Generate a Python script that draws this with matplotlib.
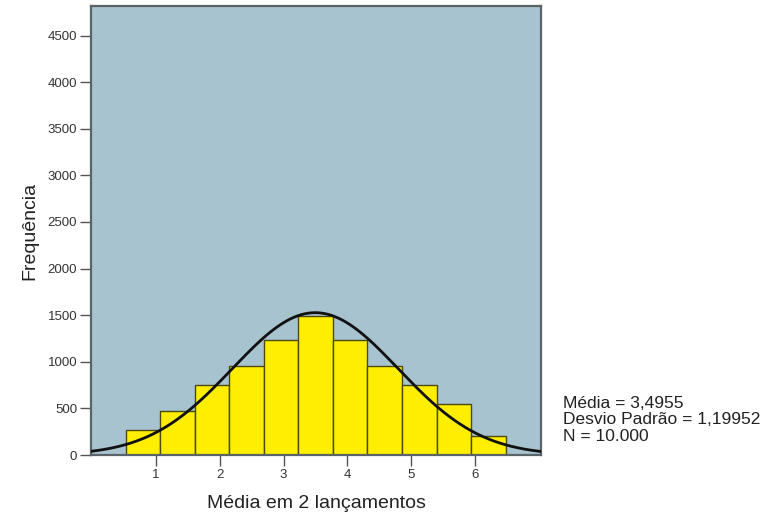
import numpy as np
import matplotlib.pyplot as plt

plt.rcParams['font.family'] = ['Liberation Sans', 'DejaVu Sans']

# histogram of the mean of 2 dice throws (SPSS style)
bin_edges = [0.526, 1.067, 1.608, 2.149, 2.690, 3.231, 3.772,
             4.313, 4.854, 5.395, 5.936, 6.477]
counts = [268, 475, 754, 951, 1234, 1491, 1234, 951, 754, 544, 207]

mean = 3.4955
std_dev = 1.19952
n_obs = 10000
curve_peak = 1527
# SPSS draws the curve in bin units: a bar of 0.5 points spans 0.541 on the axis
axis_stretch = 0.541 / 0.5

y_ticks = [0, 500, 1000, 1500, 2000, 2500, 3000, 3500, 4000, 4500]
x_ticks = [1, 2, 3, 4, 5, 6]

fig = plt.figure(figsize=(7.76, 5.19), dpi=100)
ax = fig.add_axes([91 / 776, 64 / 519, 450 / 776, 449 / 519])
ax.set_facecolor("#a8c3d0")

lefts = np.array(bin_edges[:-1])
widths = np.diff(bin_edges)
ax.bar(lefts, counts, width=widths, align="edge", color="#ffee00",
       edgecolor="#4a4a10", linewidth=1.0, zorder=2)

# fitted normal curve
t = np.linspace(0, 7.03, 400)
z = (t - mean) / (std_dev * axis_stretch)
ax.plot(t, curve_peak * np.exp(-0.5 * z ** 2), color="#111111",
        linewidth=2.0, zorder=3)

ax.set_xlim(-0.015, 7.03)
ax.set_ylim(0, 4817)
ax.set_xticks(x_ticks)
ax.set_yticks(y_ticks)
ax.tick_params(axis="both", direction="out", length=8, width=1.0,
               color="#555555", labelsize=9.5, labelcolor="#333333", pad=2)

for s in ax.spines.values():
    s.set_color("#5a6468")
    s.set_linewidth(1.6)

ax.set_xlabel("Média em 2 lançamentos", fontsize=14, color="#222222", labelpad=10)
ax.set_ylabel("Frequência", fontsize=14, color="#222222")
ax.yaxis.set_label_coords(-(91 - 38) / 450, 0.5)

fig.text(563 / 776, 1 - 420 / 519,
         "Média = 3,4955\nDesvio Padrão = 1,19952\nN = 10.000",
         fontsize=12.5, color="#222222", va="center", ha="left", linespacing=1.15)

fig.savefig("out.png", dpi=100)
